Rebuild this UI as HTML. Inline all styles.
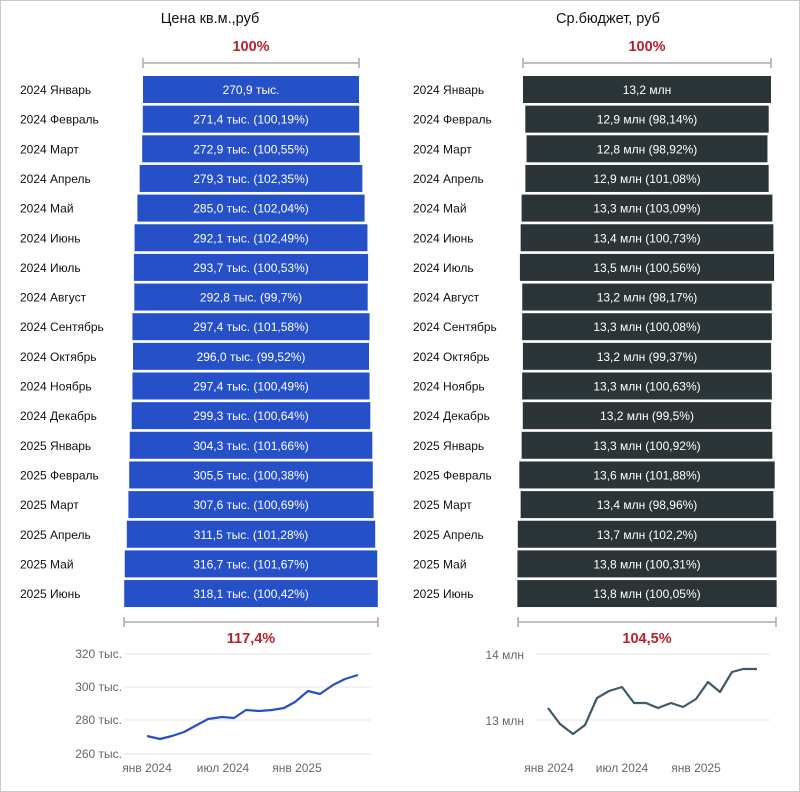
<!DOCTYPE html>
<html><head><meta charset="utf-8"><style>
html,body{margin:0;padding:0;background:#fff}
svg{display:block;font-family:"Liberation Sans",sans-serif}
</style></head><body>
<svg width="800" height="792" viewBox="0 0 800 792" xmlns="http://www.w3.org/2000/svg">
<rect x="0.5" y="0.5" width="799" height="791" fill="#fff" stroke="#c8c8c8"/>
<text x="210" y="23" font-size="14.5" text-anchor="middle" fill="#111">Цена кв.м.,руб</text>
<text x="608" y="23" font-size="14.5" text-anchor="middle" fill="#111">Ср.бюджет, руб</text>
<g font-size="14.5" font-weight="bold" fill="#b8222a" text-anchor="middle">
<text x="251" y="51">100%</text><text x="647" y="51">100%</text>
<text x="251" y="643">117,4%</text><text x="647" y="643">104,5%</text>
</g>
<g stroke="#aaa" stroke-width="1.5" fill="none">
<path d="M143 63H359M143 58V68M359 58V68"/>
<path d="M523 63H771M523 58V68M771 58V68"/>
<path d="M124 622H378M124 617V627M378 617V627"/>
<path d="M518 622H776M518 617V627M776 617V627"/>
</g>
<g fill="#2650c8">
<rect x="143" y="76" width="216" height="27"/>
<rect x="142.8" y="105.65" width="216.4" height="27"/>
<rect x="142.2" y="135.3" width="217.6" height="27"/>
<rect x="139.65" y="164.95" width="222.7" height="27"/>
<rect x="137.4" y="194.6" width="227.2" height="27"/>
<rect x="134.55" y="224.25" width="232.9" height="27"/>
<rect x="133.9" y="253.9" width="234.2" height="27"/>
<rect x="134.3" y="283.55" width="233.4" height="27"/>
<rect x="132.45" y="313.2" width="237.1" height="27"/>
<rect x="133" y="342.85" width="236" height="27"/>
<rect x="132.45" y="372.5" width="237.1" height="27"/>
<rect x="131.7" y="402.15" width="238.6" height="27"/>
<rect x="129.7" y="431.8" width="242.6" height="27"/>
<rect x="129.2" y="461.45" width="243.6" height="27"/>
<rect x="128.4" y="491.1" width="245.2" height="27"/>
<rect x="126.8" y="520.75" width="248.4" height="27"/>
<rect x="124.75" y="550.4" width="252.5" height="27"/>
<rect x="124.2" y="580.05" width="253.6" height="27"/>
</g>
<g fill="#2b3538">
<rect x="523" y="76" width="248" height="27"/>
<rect x="525.3" y="105.65" width="243.4" height="27"/>
<rect x="526.55" y="135.3" width="240.9" height="27"/>
<rect x="525.35" y="164.95" width="243.3" height="27"/>
<rect x="521.6" y="194.6" width="250.8" height="27"/>
<rect x="520.65" y="224.25" width="252.7" height="27"/>
<rect x="519.9" y="253.9" width="254.2" height="27"/>
<rect x="522.25" y="283.55" width="249.5" height="27"/>
<rect x="522.15" y="313.2" width="249.7" height="27"/>
<rect x="522.9" y="342.85" width="248.2" height="27"/>
<rect x="522.15" y="372.5" width="249.7" height="27"/>
<rect x="522.8" y="402.15" width="248.4" height="27"/>
<rect x="521.65" y="431.8" width="250.7" height="27"/>
<rect x="519.3" y="461.45" width="255.4" height="27"/>
<rect x="520.65" y="491.1" width="252.7" height="27"/>
<rect x="517.8" y="520.75" width="258.4" height="27"/>
<rect x="517.45" y="550.4" width="259.1" height="27"/>
<rect x="517.35" y="580.05" width="259.3" height="27"/>
</g>
<g font-size="12" fill="#fff" text-anchor="middle">
<text x="251" y="94">270,9 тыс.</text>
<text x="251" y="123.6">271,4 тыс. (100,19%)</text>
<text x="251" y="153.3">272,9 тыс. (100,55%)</text>
<text x="251" y="183">279,3 тыс. (102,35%)</text>
<text x="251" y="212.6">285,0 тыс. (102,04%)</text>
<text x="251" y="242.3">292,1 тыс. (102,49%)</text>
<text x="251" y="271.9">293,7 тыс. (100,53%)</text>
<text x="251" y="301.6">292,8 тыс. (99,7%)</text>
<text x="251" y="331.2">297,4 тыс. (101,58%)</text>
<text x="251" y="360.9">296,0 тыс. (99,52%)</text>
<text x="251" y="390.5">297,4 тыс. (100,49%)</text>
<text x="251" y="420.2">299,3 тыс. (100,64%)</text>
<text x="251" y="449.8">304,3 тыс. (101,66%)</text>
<text x="251" y="479.5">305,5 тыс. (100,38%)</text>
<text x="251" y="509.1">307,6 тыс. (100,69%)</text>
<text x="251" y="538.8">311,5 тыс. (101,28%)</text>
<text x="251" y="568.4">316,7 тыс. (101,67%)</text>
<text x="251" y="598.1">318,1 тыс. (100,42%)</text>
<text x="647" y="94">13,2 млн</text>
<text x="647" y="123.6">12,9 млн (98,14%)</text>
<text x="647" y="153.3">12,8 млн (98,92%)</text>
<text x="647" y="183">12,9 млн (101,08%)</text>
<text x="647" y="212.6">13,3 млн (103,09%)</text>
<text x="647" y="242.3">13,4 млн (100,73%)</text>
<text x="647" y="271.9">13,5 млн (100,56%)</text>
<text x="647" y="301.6">13,2 млн (98,17%)</text>
<text x="647" y="331.2">13,3 млн (100,08%)</text>
<text x="647" y="360.9">13,2 млн (99,37%)</text>
<text x="647" y="390.5">13,3 млн (100,63%)</text>
<text x="647" y="420.2">13,2 млн (99,5%)</text>
<text x="647" y="449.8">13,3 млн (100,92%)</text>
<text x="647" y="479.5">13,6 млн (101,88%)</text>
<text x="647" y="509.1">13,4 млн (98,96%)</text>
<text x="647" y="538.8">13,7 млн (102,2%)</text>
<text x="647" y="568.4">13,8 млн (100,31%)</text>
<text x="647" y="598.1">13,8 млн (100,05%)</text>
</g>
<g font-size="12" fill="#111">
<text x="20" y="94">2024 Январь</text><text x="413" y="94">2024 Январь</text>
<text x="20" y="123.6">2024 Февраль</text><text x="413" y="123.6">2024 Февраль</text>
<text x="20" y="153.3">2024 Март</text><text x="413" y="153.3">2024 Март</text>
<text x="20" y="183">2024 Апрель</text><text x="413" y="183">2024 Апрель</text>
<text x="20" y="212.6">2024 Май</text><text x="413" y="212.6">2024 Май</text>
<text x="20" y="242.3">2024 Июнь</text><text x="413" y="242.3">2024 Июнь</text>
<text x="20" y="271.9">2024 Июль</text><text x="413" y="271.9">2024 Июль</text>
<text x="20" y="301.6">2024 Август</text><text x="413" y="301.6">2024 Август</text>
<text x="20" y="331.2">2024 Сентябрь</text><text x="413" y="331.2">2024 Сентябрь</text>
<text x="20" y="360.9">2024 Октябрь</text><text x="413" y="360.9">2024 Октябрь</text>
<text x="20" y="390.5">2024 Ноябрь</text><text x="413" y="390.5">2024 Ноябрь</text>
<text x="20" y="420.2">2024 Декабрь</text><text x="413" y="420.2">2024 Декабрь</text>
<text x="20" y="449.8">2025 Январь</text><text x="413" y="449.8">2025 Январь</text>
<text x="20" y="479.5">2025 Февраль</text><text x="413" y="479.5">2025 Февраль</text>
<text x="20" y="509.1">2025 Март</text><text x="413" y="509.1">2025 Март</text>
<text x="20" y="538.8">2025 Апрель</text><text x="413" y="538.8">2025 Апрель</text>
<text x="20" y="568.4">2025 Май</text><text x="413" y="568.4">2025 Май</text>
<text x="20" y="598.1">2025 Июнь</text><text x="413" y="598.1">2025 Июнь</text>
</g>
<g stroke="#e4e4e4" stroke-width="1">
<path d="M124 654H371M124 687H371M124 720H371M124 754H371"/>
<path d="M536 654H770M536 720H770"/>
</g>
<g font-size="12" fill="#666">
<g text-anchor="end">
<text x="122" y="658">320 тыс.</text><text x="122" y="691">300 тыс.</text>
<text x="122" y="724">280 тыс.</text><text x="122" y="758">260 тыс.</text>
<text x="524" y="659">14 млн</text><text x="524" y="725">13 млн</text>
</g>
<g text-anchor="middle">
<text x="147" y="772">янв 2024</text><text x="223" y="772">июл 2024</text><text x="297" y="772">янв 2025</text>
<text x="549" y="772">янв 2024</text><text x="622" y="772">июл 2024</text><text x="696" y="772">янв 2025</text>
</g>
</g>
<polyline fill="none" stroke="#2650c8" stroke-width="2.2" stroke-linejoin="round" points="147,736 160,739 172,736 184,732 197,725 208,719 222,717 234,718 246,710 259,711 272,710 284,708 295,702 308,691 320,694 333,685 345,679 358,675"/>
<polyline fill="none" stroke="#3d5a66" stroke-width="2.2" stroke-linejoin="round" points="548,708 560,724 573,734 585,725 597,698 609,691 622,687 634,703 646,703 658,708 671,703 683,707 696,699 708,682 720,692 732,672 743,669 757,669"/>
</svg>
</body></html>
